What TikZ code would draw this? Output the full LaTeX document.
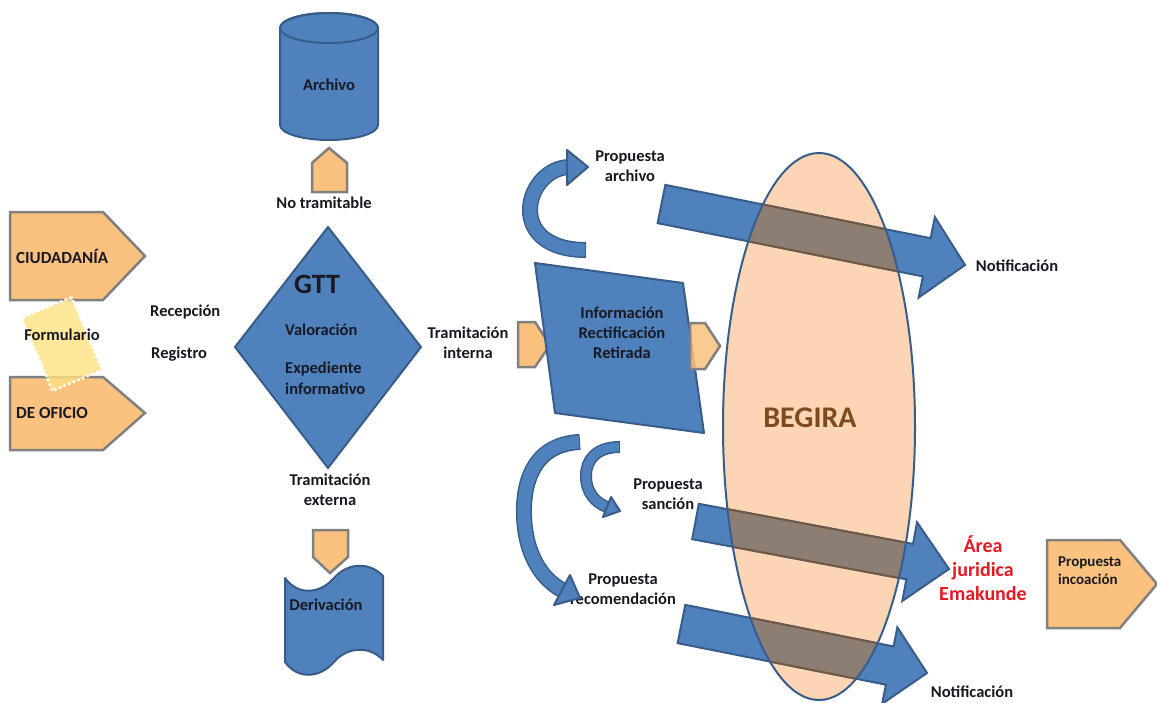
\documentclass[tikz,border=0pt]{standalone}
\usepackage{fontspec}
\setmainfont{Carlito}
\usetikzlibrary{calc,shapes.geometric}
\definecolor{bfill}{RGB}{79,129,189}
\definecolor{bline}{RGB}{56,93,138}
\definecolor{ofill}{RGB}{250,194,126}
\definecolor{oline}{RGB}{128,128,128}
\definecolor{peach}{RGB}{252,213,181}
\definecolor{ovl}{RGB}{141,126,116}
\definecolor{ovline}{RGB}{110,88,70}
\definecolor{yfill}{RGB}{252,226,130}
\definecolor{redt}{RGB}{230,25,35}
\definecolor{brownt}{RGB}{125,75,30}
\definecolor{txt}{RGB}{25,25,35}
\newcommand\lblfont{\fontsize{16.5}{20}\selectfont\bfseries}
\newcommand\fatarrow[4]{%
  \path[#4] ($(#1t)!#2!90:(#1p)$) -- ($(#1b)!#2!-90:(#1t)$) -- ($(#1b)!#3!-90:(#1t)$) -- (#1p) -- ($(#1b)!#3!90:(#1t)$) -- ($(#1b)!#2!90:(#1t)$) -- ($(#1t)!#2!-90:(#1p)$) -- cycle;}
\begin{document}
\begin{tikzpicture}[x=1pt,y=-1pt,
  every node/.style={inner sep=0pt, font=\lblfont, text=txt, align=center},
  bshape/.style={fill=bfill, draw=bline, line width=2pt, line join=round},
  oshape/.style={fill=ofill, draw=oline, line width=2.5pt, line join=miter},
  fatblue/.style={fill=bfill, draw=bline, line width=2pt, line join=miter},
  fatover/.style={fill=ovl, draw=ovline, line width=2pt, line join=miter},
  bandout/.style={draw=bline, line width=#1+3pt, shorten <=-1pt},
  bandin/.style={draw=bfill, line width=#1},
  redlbl/.style={font=\fontsize{20}{24}\selectfont\bfseries, text=redt}]
\useasboundingbox[fill=white] (0,0) rectangle (1157,702);

% BEGIRA ellipse (fill)
\coordinate (begira) at (819,426.5);
\fill[peach] (begira) ellipse [x radius=96pt, y radius=273.5pt];

% fat arrows
\coordinate (At) at (661.5,204); \coordinate (Ap) at (965,265);
\coordinate (Ab) at ($(Ap)!39pt!(At)$);
\coordinate (Bt) at (695.5,521.5); \coordinate (Bp) at (949,569);
\coordinate (Bb) at ($(Bp)!40pt!(Bt)$);
\coordinate (Ct) at (681.5,624); \coordinate (Cp) at (927,673);
\coordinate (Cb) at ($(Cp)!38pt!(Ct)$);
\fatarrow{A}{19.5pt}{41pt}{fatblue}
\fatarrow{B}{18pt}{40pt}{fatblue}
\fatarrow{C}{19.5pt}{39pt}{fatblue}
\begin{scope}
  \clip (begira) ellipse [x radius=96pt, y radius=273.5pt];
  \fatarrow{A}{19.5pt}{41pt}{fatover}
  \fatarrow{B}{18pt}{40pt}{fatover}
  \fatarrow{C}{19.5pt}{39pt}{fatover}
\end{scope}
\draw[bline, line width=2pt] (begira) ellipse [x radius=96pt, y radius=273.5pt];
\node[font=\fontsize{30}{34}\selectfont\bfseries, text=brownt] (begiratxt) at (810,418) {BEGIRA};

% left pentagons
\path[oshape] (10,212) -- (103,212) -- (145,256) -- (103,300) -- (10,300) -- cycle;
\path[oshape] (10,377) -- (103,377) -- (145,413) -- (103,450) -- (10,450) -- cycle;
\node[rectangle, minimum width=54pt, minimum height=79pt, rotate=22.8, fill=yfill, fill opacity=0.8, draw=white, line width=2.5pt, dash pattern=on 2.5pt off 2.5pt] (formbox) at (62,344) {};
\node[anchor=west, font=\fontsize{17}{20}\selectfont\bfseries] (ciu) at (16,256) {CIUDADANÍA};
\node[anchor=west, font=\fontsize{17}{20}\selectfont\bfseries] (ofi) at (16,413) {DE OFICIO};
\node (form) at (62,335) {Formulario};
\node[anchor=west] (recep) at (150,312) {Recepción};
\node[anchor=west] (regis) at (151,354) {Registro};

% diamond GTT
\path[bshape] (328,227) -- (421,347) -- (328,468) -- (235,347) -- cycle;
\node[font=\fontsize{28}{30}\selectfont\bfseries] (gtt) at (317,284) {GTT};
\node[anchor=west] (valo) at (285,330) {Valoración};
\node[anchor=west] (expe) at (285,369) {Expediente};
\node[anchor=west] (info) at (285,389) {informativo};

% archivo cylinder
\path[bshape] (280,28) -- (280,125) arc[start angle=180, end angle=360, x radius=49pt, y radius=15pt] -- (378,28) arc[start angle=0, end angle=180, x radius=49pt, y radius=15pt] -- cycle;
\draw[bline, line width=2pt] (329,28) ellipse [x radius=49pt, y radius=15pt];
\node (archivo) at (329,85) {Archivo};
\path[oshape] (312,192) -- (312,163) -- (329,148) -- (347,163) -- (347,192) -- cycle;
\node (notram) at (324,203) {No tramitable};

% derivacion
\node (texterna) at (330,490) {Tramitación\\externa};
\path[bshape] (285,578) .. controls (298,596) and (320,594) .. (334,578) .. controls (348,562) and (370,562) .. (383,576) -- (383,660) .. controls (370,646) and (348,646) .. (334,662) .. controls (320,678) and (298,680) .. (285,662) -- cycle;
\path[oshape] (313,530) -- (348,530) -- (348,557) -- (330,573) -- (313,557) -- cycle;
\node (deriv) at (326,605) {Derivación};

% tramitacion interna
\node (tinterna) at (468,343) {Tramitación\\interna};
\path[oshape] (518,322) -- (535,322) -- (550,345) -- (535,367) -- (518,367) -- cycle;
\path[bshape] (535,263) -- (683,283) -- (704,433) -- (555,413) -- cycle;
\node (irr) at (622,333) {Información\\Rectificación\\Retirada};
\path[oshape, fill opacity=0.85] (690,323) -- (705,323) -- (720,346) -- (705,369) -- (690,369) -- cycle;

% right side texts
\node (parch) at (630,166) {Propuesta\\archivo};
\node (notif1) at (1017,266) {Notificación};
\node (psanc) at (668,494) {Propuesta\\sanción};
\node (precom) at (623,589) {Propuesta\\recomendación};
\node[redlbl] (area) at (983,568) {Área\\juridica\\Emakunde};
\path[oshape] (1047,540) -- (1120,540) -- (1157,584) -- (1120,628) -- (1047,628) -- cycle;
\node[anchor=west, align=left, font=\fontsize{15}{18}\selectfont\bfseries] (pinc) at (1058,571) {Propuesta\\incoación};
\node (notif2) at (972,692) {Notificación};

% curved arrows
\coordinate (k1s) at (585,250);
\coordinate (k1e) at (570,167);
\draw[bandout=13pt] (k1s) .. controls (548,250) and (530,232) .. (530,210) .. controls (530,188) and (548,167) .. (k1e);
\draw[bandin=13pt] (k1s) .. controls (548,250) and (530,232) .. (530,210) .. controls (530,188) and (548,167) .. (k1e);
\path[bshape] (567,150) -- (588,167) -- (567,185) -- cycle;

\coordinate (k2s) at (579,442);
\coordinate (k2e) at (562,590);
\draw[bandout=13pt] (k2s) .. controls (535,444) and (523,480) .. (524,515) .. controls (525,552) and (540,578) .. (k2e);
\draw[bandin=13pt] (k2s) .. controls (535,444) and (523,480) .. (524,515) .. controls (525,552) and (540,578) .. (k2e);
\path[bshape] (554,605) -- (580,598) -- (570,575) -- cycle;

\coordinate (k3s) at (619,447);
\coordinate (k3e) at (607,507);
\draw[bandout=9pt] (k3s) .. controls (596,447) and (586,460) .. (586,476) .. controls (586,493) and (596,503) .. (k3e);
\draw[bandin=9pt] (k3s) .. controls (596,447) and (586,460) .. (586,476) .. controls (586,493) and (596,503) .. (k3e);
\path[bshape] (603,517) -- (620,511) -- (611,497) -- cycle;
\end{tikzpicture}
\end{document}
